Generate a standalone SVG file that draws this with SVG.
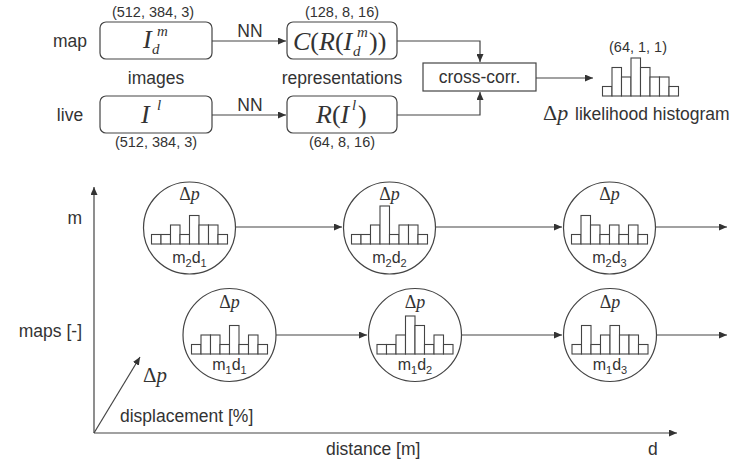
<svg xmlns="http://www.w3.org/2000/svg" width="744" height="464" viewBox="0 0 744 464">
<style>
.t{font-family:"Liberation Sans",Arial,sans-serif;font-size:17.5px;fill:#333}
.dim{font-family:"Liberation Sans",Arial,sans-serif;font-size:14.5px;fill:#333;text-anchor:middle}
.lbl{font-family:"Liberation Sans",Arial,sans-serif;font-size:16px;fill:#333;text-anchor:middle}
.sub{font-size:11px}
.m{font-family:"Liberation Serif","Times New Roman",serif;fill:#333}
.i{font-style:italic}
.box{fill:#fff;stroke:#444;stroke-width:1.2}
.ln{fill:none;stroke:#444;stroke-width:1.2}
.bar{fill:#fff;stroke:#444;stroke-width:1.1}
</style>
<defs>
<marker id="ah" markerUnits="userSpaceOnUse" markerWidth="9" markerHeight="7" refX="8" refY="3.5" orient="auto">
<path d="M0,0 L8,3.5 L0,7 z" fill="#333"/>
</marker>
</defs>

<g id="connectors">
<path class="ln" d="M212,41 H286" marker-end="url(#ah)"/>
<path class="ln" d="M212,115 H286" marker-end="url(#ah)"/>
<path class="ln" d="M397,41 H480 V62" marker-end="url(#ah)"/>
<path class="ln" d="M397,115 H480 V92" marker-end="url(#ah)"/>
<path class="ln" d="M536,78 H593" marker-end="url(#ah)"/>
<path class="ln" d="M236,227 H342" marker-end="url(#ah)"/>
<path class="ln" d="M436,227 H562" marker-end="url(#ah)"/>
<path class="ln" d="M656,227 H727" marker-end="url(#ah)"/>
<path class="ln" d="M276,335 H367" marker-end="url(#ah)"/>
<path class="ln" d="M462,335 H562" marker-end="url(#ah)"/>
<path class="ln" d="M657,335 H727" marker-end="url(#ah)"/>
<path class="ln" d="M94,433 V187" marker-end="url(#ah)"/>
<path class="ln" d="M94,433 H677" marker-end="url(#ah)"/>
<path class="ln" d="M94,433 L140,357" marker-end="url(#ah)"/>
</g>

<g id="side-labels">
<text class="t" x="70" y="47" text-anchor="middle">map</text>
<text class="t" x="70" y="121" text-anchor="middle">live</text>
<text class="t" x="156" y="84" text-anchor="middle">images</text>
<text class="t" x="342" y="84" text-anchor="middle">representations</text>
<text class="t" x="250" y="37" text-anchor="middle">NN</text>
<text class="t" x="250" y="111" text-anchor="middle">NN</text>
</g>

<g id="map-image">
<text class="dim" x="153" y="17">(512, 384, 3)</text>
<rect class="box" x="100" y="22" width="112" height="37" rx="6"/>
<text class="m i" font-size="26" x="143" y="48">I</text>
<text class="m i" font-size="15" x="157" y="36">m</text>
<text class="m i" font-size="15" x="152" y="54">d</text>
</g>

<g id="live-image">
<rect class="box" x="100" y="96" width="112" height="37" rx="6"/>
<text class="m i" font-size="26" x="141" y="123">I</text>
<text class="m i" font-size="15" x="157" y="110">l</text>
<text class="dim" x="156" y="147">(512, 384, 3)</text>
</g>

<g id="map-repr">
<text class="dim" x="342" y="17">(128, 8, 16)</text>
<rect class="box" x="287" y="22" width="110" height="37" rx="6"/>
<text class="m" font-size="26" x="293" y="50"><tspan class="i">C</tspan>(<tspan class="i">R</tspan>(<tspan class="i">I</tspan></text>
<text class="m i" font-size="15" x="357" y="37">m</text>
<text class="m i" font-size="15" x="353" y="56">d</text>
<text class="m" font-size="26" x="369" y="50">))</text>
</g>

<g id="live-repr">
<rect class="box" x="287" y="96" width="110" height="37" rx="6"/>
<text class="m" font-size="26" x="316" y="123"><tspan class="i">R</tspan>(<tspan class="i">I</tspan></text>
<text class="m i" font-size="15" x="352" y="110">l</text>
<text class="m" font-size="26" x="358" y="123">)</text>
<text class="dim" x="342" y="147">(64, 8, 16)</text>
</g>

<g id="cross-corr">
<rect class="box" x="423" y="63" width="113" height="28"/>
<text class="t" x="479.5" y="83" text-anchor="middle">cross-corr.</text>
</g>

<g id="histogram">
<text class="dim" x="638" y="52">(64, 1, 1)</text>
<rect class="bar" x="602.5" y="86.5" width="9.5" height="9.5"/>
<rect class="bar" x="612" y="67.5" width="9.5" height="28.5"/>
<rect class="bar" x="621.5" y="77" width="9.5" height="19"/>
<rect class="bar" x="631" y="58" width="9.5" height="38"/>
<rect class="bar" x="640.5" y="67.5" width="9.5" height="28.5"/>
<rect class="bar" x="650" y="77" width="9.5" height="19"/>
<rect class="bar" x="659.5" y="77" width="9.5" height="19"/>
<rect class="bar" x="669" y="86.5" width="9.5" height="9.5"/>
<text class="m" font-size="22" x="543" y="120">Δ<tspan class="i">p</tspan></text>
<text class="t" x="575" y="120">likelihood histogram</text>
</g>

<g id="m2d1">
<circle class="box" cx="189.5" cy="228" r="46"/>
<text class="m" font-size="18" x="189.5" y="200" text-anchor="middle">Δ<tspan class="i">p</tspan></text>
<rect class="bar" x="151.5" y="234.5" width="9.5" height="9.5"/>
<rect class="bar" x="161" y="234.5" width="9.5" height="9.5"/>
<rect class="bar" x="170.5" y="225" width="9.5" height="19"/>
<rect class="bar" x="180" y="234.5" width="9.5" height="9.5"/>
<rect class="bar" x="189.5" y="215.5" width="9.5" height="28.5"/>
<rect class="bar" x="199" y="225" width="9.5" height="19"/>
<rect class="bar" x="208.5" y="225" width="9.5" height="19"/>
<rect class="bar" x="218" y="234.5" width="9.5" height="9.5"/>
<text class="lbl" x="189.5" y="263">m<tspan class="sub" dy="4">2</tspan><tspan dy="-4">d</tspan><tspan class="sub" dy="4">1</tspan></text>
</g>

<g id="m2d2">
<circle class="box" cx="389.5" cy="228" r="46"/>
<text class="m" font-size="18" x="389.5" y="200" text-anchor="middle">Δ<tspan class="i">p</tspan></text>
<rect class="bar" x="351.5" y="234.5" width="9.5" height="9.5"/>
<rect class="bar" x="361" y="234.5" width="9.5" height="9.5"/>
<rect class="bar" x="370.5" y="225" width="9.5" height="19"/>
<rect class="bar" x="380" y="206" width="9.5" height="38"/>
<rect class="bar" x="389.5" y="234.5" width="9.5" height="9.5"/>
<rect class="bar" x="399" y="225" width="9.5" height="19"/>
<rect class="bar" x="408.5" y="225" width="9.5" height="19"/>
<rect class="bar" x="418" y="234.5" width="9.5" height="9.5"/>
<text class="lbl" x="389.5" y="263">m<tspan class="sub" dy="4">2</tspan><tspan dy="-4">d</tspan><tspan class="sub" dy="4">2</tspan></text>
</g>

<g id="m2d3">
<circle class="box" cx="609.5" cy="228" r="46"/>
<text class="m" font-size="18" x="609.5" y="200" text-anchor="middle">Δ<tspan class="i">p</tspan></text>
<rect class="bar" x="571.5" y="234.5" width="9.5" height="9.5"/>
<rect class="bar" x="581" y="215.5" width="9.5" height="28.5"/>
<rect class="bar" x="590.5" y="225" width="9.5" height="19"/>
<rect class="bar" x="600" y="234.5" width="9.5" height="9.5"/>
<rect class="bar" x="609.5" y="225" width="9.5" height="19"/>
<rect class="bar" x="619" y="234.5" width="9.5" height="9.5"/>
<rect class="bar" x="628.5" y="225" width="9.5" height="19"/>
<rect class="bar" x="638" y="234.5" width="9.5" height="9.5"/>
<text class="lbl" x="609.5" y="263">m<tspan class="sub" dy="4">2</tspan><tspan dy="-4">d</tspan><tspan class="sub" dy="4">3</tspan></text>
</g>

<g id="m1d1">
<circle class="box" cx="229.5" cy="335" r="46.5"/>
<text class="m" font-size="18" x="229.5" y="308" text-anchor="middle">Δ<tspan class="i">p</tspan></text>
<rect class="bar" x="191.5" y="344.5" width="9.5" height="9.5"/>
<rect class="bar" x="201" y="335" width="9.5" height="19"/>
<rect class="bar" x="210.5" y="335" width="9.5" height="19"/>
<rect class="bar" x="220" y="344.5" width="9.5" height="9.5"/>
<rect class="bar" x="229.5" y="325.5" width="9.5" height="28.5"/>
<rect class="bar" x="239" y="344.5" width="9.5" height="9.5"/>
<rect class="bar" x="248.5" y="335" width="9.5" height="19"/>
<rect class="bar" x="258" y="344.5" width="9.5" height="9.5"/>
<text class="lbl" x="229.5" y="370">m<tspan class="sub" dy="4">1</tspan><tspan dy="-4">d</tspan><tspan class="sub" dy="4">1</tspan></text>
</g>

<g id="m1d2">
<circle class="box" cx="415" cy="335" r="46.5"/>
<text class="m" font-size="18" x="415" y="308" text-anchor="middle">Δ<tspan class="i">p</tspan></text>
<rect class="bar" x="377" y="344.5" width="9.5" height="9.5"/>
<rect class="bar" x="386.5" y="344.5" width="9.5" height="9.5"/>
<rect class="bar" x="396" y="335" width="9.5" height="19"/>
<rect class="bar" x="405.5" y="316" width="9.5" height="38"/>
<rect class="bar" x="415" y="325.5" width="9.5" height="28.5"/>
<rect class="bar" x="424.5" y="344.5" width="9.5" height="9.5"/>
<rect class="bar" x="434" y="335" width="9.5" height="19"/>
<rect class="bar" x="443.5" y="344.5" width="9.5" height="9.5"/>
<text class="lbl" x="415" y="370">m<tspan class="sub" dy="4">1</tspan><tspan dy="-4">d</tspan><tspan class="sub" dy="4">2</tspan></text>
</g>

<g id="m1d3">
<circle class="box" cx="610" cy="335" r="46.5"/>
<text class="m" font-size="18" x="610" y="308" text-anchor="middle">Δ<tspan class="i">p</tspan></text>
<rect class="bar" x="572" y="344.5" width="9.5" height="9.5"/>
<rect class="bar" x="581.5" y="325.5" width="9.5" height="28.5"/>
<rect class="bar" x="591" y="344.5" width="9.5" height="9.5"/>
<rect class="bar" x="600.5" y="335" width="9.5" height="19"/>
<rect class="bar" x="610" y="325.5" width="9.5" height="28.5"/>
<rect class="bar" x="619.5" y="335" width="9.5" height="19"/>
<rect class="bar" x="629" y="335" width="9.5" height="19"/>
<rect class="bar" x="638.5" y="344.5" width="9.5" height="9.5"/>
<text class="lbl" x="610" y="370">m<tspan class="sub" dy="4">1</tspan><tspan dy="-4">d</tspan><tspan class="sub" dy="4">3</tspan></text>
</g>

<g id="axis-labels">
<text class="t" x="82" y="224" text-anchor="end">m</text>
<text class="t" x="82" y="337" text-anchor="end">maps [-]</text>
<text class="m" font-size="21" x="143" y="382">Δ<tspan class="i">p</tspan></text>
<text class="t" x="120" y="422">displacement [%]</text>
<text class="t" x="326" y="455">distance [m]</text>
<text class="t" x="648" y="455">d</text>
</g>
</svg>
